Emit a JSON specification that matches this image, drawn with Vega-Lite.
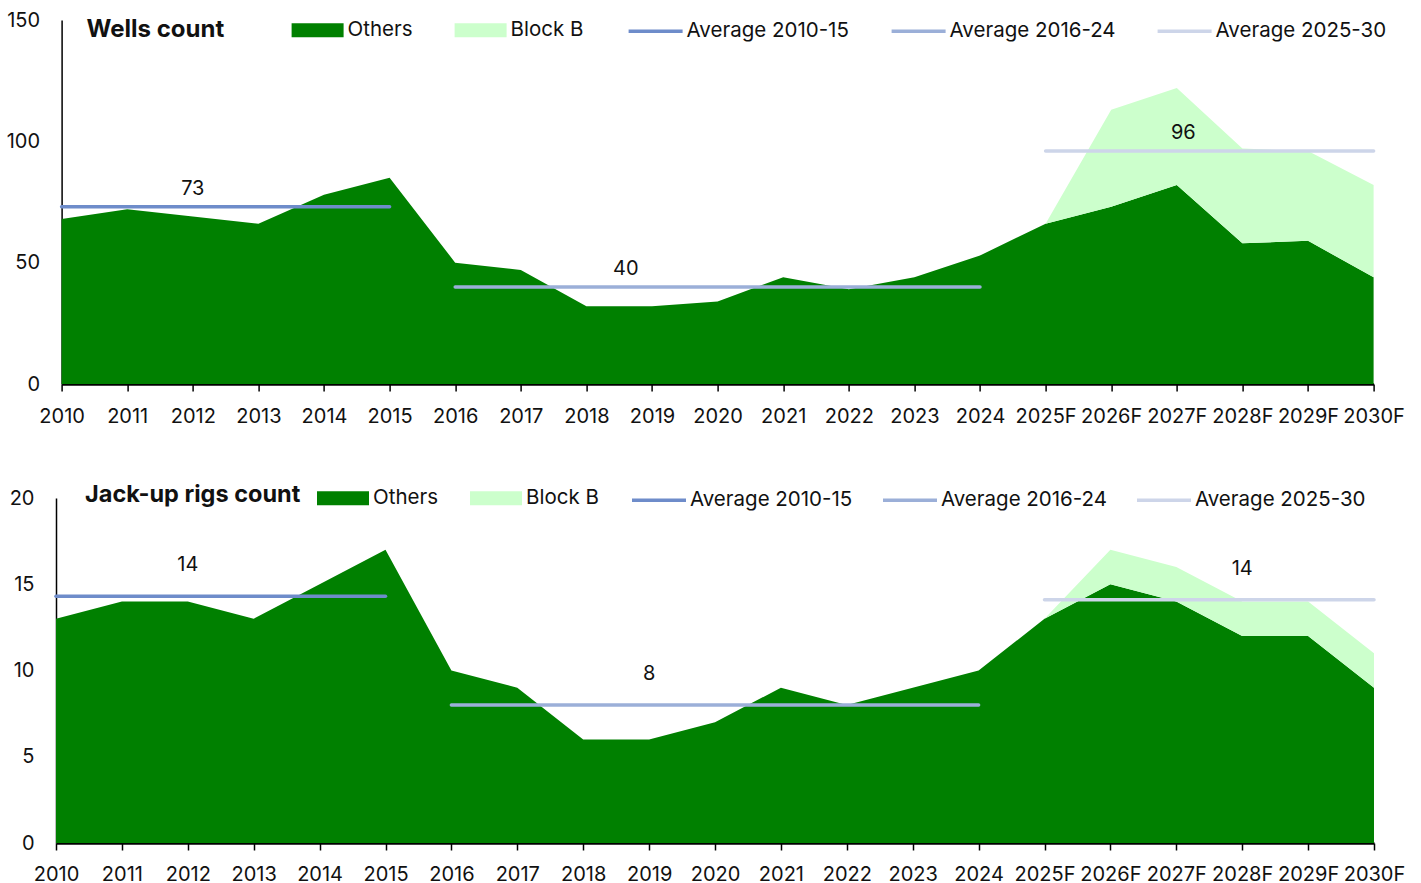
{
  "$schema": "https://vega.github.io/schema/vega-lite/v6.json",
  "background": "white",
  "padding": {"left": 6, "top": 2, "right": 0, "bottom": 0},
  "autosize": {"type": "pad"},
  "spacing": 45,
  "center": true,
  "config": {
    "view": {"stroke": null},
    "font": "Inter",
    "axis": {"grid": false, "labelFont": "Inter", "labelFontSize": 20, "labelColor": "#111111", "domainColor": "#000000", "tickColor": "#000000", "zindex": 1},
    "legend": {"labelFont": "Inter", "labelColor": "#111111", "labelLimit": 400},
    "title": {"font": "Inter"}
  },
  "resolve": {
    "scale": {"x": "independent", "y": "independent", "fill": "independent", "stroke": "independent"},
    "legend": {"fill": "independent", "stroke": "independent"}
  },
  "datasets": {
    "wells": [
      {"year": 2010, "series": "Others", "value": 68},
      {"year": 2011, "series": "Others", "value": 72},
      {"year": 2012, "series": "Others", "value": 69},
      {"year": 2013, "series": "Others", "value": 66},
      {"year": 2014, "series": "Others", "value": 78},
      {"year": 2015, "series": "Others", "value": 85},
      {"year": 2016, "series": "Others", "value": 50},
      {"year": 2017, "series": "Others", "value": 47},
      {"year": 2018, "series": "Others", "value": 32},
      {"year": 2019, "series": "Others", "value": 32},
      {"year": 2020, "series": "Others", "value": 34},
      {"year": 2021, "series": "Others", "value": 44},
      {"year": 2022, "series": "Others", "value": 39},
      {"year": 2023, "series": "Others", "value": 44},
      {"year": 2024, "series": "Others", "value": 53},
      {"year": 2025, "series": "Others", "value": 66},
      {"year": 2026, "series": "Others", "value": 73},
      {"year": 2027, "series": "Others", "value": 82},
      {"year": 2028, "series": "Others", "value": 58},
      {"year": 2029, "series": "Others", "value": 59},
      {"year": 2030, "series": "Others", "value": 44},
      {"year": 2010, "series": "Block B", "value": 0},
      {"year": 2011, "series": "Block B", "value": 0},
      {"year": 2012, "series": "Block B", "value": 0},
      {"year": 2013, "series": "Block B", "value": 0},
      {"year": 2014, "series": "Block B", "value": 0},
      {"year": 2015, "series": "Block B", "value": 0},
      {"year": 2016, "series": "Block B", "value": 0},
      {"year": 2017, "series": "Block B", "value": 0},
      {"year": 2018, "series": "Block B", "value": 0},
      {"year": 2019, "series": "Block B", "value": 0},
      {"year": 2020, "series": "Block B", "value": 0},
      {"year": 2021, "series": "Block B", "value": 0},
      {"year": 2022, "series": "Block B", "value": 0},
      {"year": 2023, "series": "Block B", "value": 0},
      {"year": 2024, "series": "Block B", "value": 0},
      {"year": 2025, "series": "Block B", "value": 0},
      {"year": 2026, "series": "Block B", "value": 40},
      {"year": 2027, "series": "Block B", "value": 40},
      {"year": 2028, "series": "Block B", "value": 39},
      {"year": 2029, "series": "Block B", "value": 37},
      {"year": 2030, "series": "Block B", "value": 38}
    ],
    "wellsAvg": [
      {"series": "Average 2010-15", "from": 2010, "to": 2015, "value": 73, "label": "73", "labelYear": 2012},
      {"series": "Average 2016-24", "from": 2016, "to": 2024, "value": 40, "label": "40", "labelYear": 2018.6},
      {"series": "Average 2025-30", "from": 2025, "to": 2030, "value": 96, "label": "96", "labelYear": 2027.1}
    ],
    "rigs": [
      {"year": 2010, "series": "Others", "value": 13},
      {"year": 2011, "series": "Others", "value": 14},
      {"year": 2012, "series": "Others", "value": 14},
      {"year": 2013, "series": "Others", "value": 13},
      {"year": 2014, "series": "Others", "value": 15},
      {"year": 2015, "series": "Others", "value": 17},
      {"year": 2016, "series": "Others", "value": 10},
      {"year": 2017, "series": "Others", "value": 9},
      {"year": 2018, "series": "Others", "value": 6},
      {"year": 2019, "series": "Others", "value": 6},
      {"year": 2020, "series": "Others", "value": 7},
      {"year": 2021, "series": "Others", "value": 9},
      {"year": 2022, "series": "Others", "value": 8},
      {"year": 2023, "series": "Others", "value": 9},
      {"year": 2024, "series": "Others", "value": 10},
      {"year": 2025, "series": "Others", "value": 13},
      {"year": 2026, "series": "Others", "value": 15},
      {"year": 2027, "series": "Others", "value": 14},
      {"year": 2028, "series": "Others", "value": 12},
      {"year": 2029, "series": "Others", "value": 12},
      {"year": 2030, "series": "Others", "value": 9},
      {"year": 2010, "series": "Block B", "value": 0},
      {"year": 2011, "series": "Block B", "value": 0},
      {"year": 2012, "series": "Block B", "value": 0},
      {"year": 2013, "series": "Block B", "value": 0},
      {"year": 2014, "series": "Block B", "value": 0},
      {"year": 2015, "series": "Block B", "value": 0},
      {"year": 2016, "series": "Block B", "value": 0},
      {"year": 2017, "series": "Block B", "value": 0},
      {"year": 2018, "series": "Block B", "value": 0},
      {"year": 2019, "series": "Block B", "value": 0},
      {"year": 2020, "series": "Block B", "value": 0},
      {"year": 2021, "series": "Block B", "value": 0},
      {"year": 2022, "series": "Block B", "value": 0},
      {"year": 2023, "series": "Block B", "value": 0},
      {"year": 2024, "series": "Block B", "value": 0},
      {"year": 2025, "series": "Block B", "value": 0},
      {"year": 2026, "series": "Block B", "value": 2},
      {"year": 2027, "series": "Block B", "value": 2},
      {"year": 2028, "series": "Block B", "value": 2},
      {"year": 2029, "series": "Block B", "value": 2},
      {"year": 2030, "series": "Block B", "value": 2}
    ],
    "rigsAvg": [
      {"series": "Average 2010-15", "from": 2010, "to": 2015, "value": 14.3, "label": "14", "labelYear": 2012},
      {"series": "Average 2016-24", "from": 2016, "to": 2024, "value": 8, "label": "8", "labelYear": 2019},
      {"series": "Average 2025-30", "from": 2025, "to": 2030, "value": 14.1, "label": "14", "labelYear": 2028}
    ]
  },
  "vconcat": [
    {
      "width": 1312,
      "height": 364,
      "title": {"text": "Wells count", "anchor": "start", "frame": "group", "dx": 25, "offset": -52, "baseline": "middle", "fontSize": 24, "fontWeight": "bold", "color": "#111111"},
      "layer": [
        {
          "data": {"name": "wells"},
          "mark": {"type": "area", "interpolate": "linear"},
          "encoding": {
            "x": {"field": "year", "type": "quantitative", "scale": {"domain": [2010, 2030], "nice": false, "zero": false},
              "axis": {"title": null, "values": [2010,2011,2012,2013,2014,2015,2016,2017,2018,2019,2020,2021,2022,2023,2024,2025,2026,2027,2028,2029,2030], "labelExpr": "datum.value >= 2025 ? datum.value + 'F' : '' + datum.value", "tickSize": 7, "tickWidth": 1.5, "domainWidth": 2.5, "labelPadding": 15, "labelFlush": false, "labelOverlap": false}},
            "y": {"field": "value", "type": "quantitative", "stack": "zero", "scale": {"domain": [0, 150], "nice": false},
              "axis": {"title": null, "values": [0, 50, 100, 150], "ticks": false, "labelPadding": 22, "domainWidth": 1.5}},
            "fill": {"field": "series", "type": "nominal", "scale": {"domain": ["Others", "Block B"], "range": ["#008000", "#CCFFCC"]},
              "legend": {"orient": "none", "legendX": 230, "legendY": -16, "direction": "horizontal", "title": null, "symbolType": "M-1,-0.27H1V0.27H-1Z", "symbolSize": 2704, "symbolStrokeWidth": 0, "symbolOpacity": 1, "labelFontSize": 20.5, "labelOffset": 4, "columnPadding": 42, "padding": 0}},
            "order": {"field": "series", "sort": "descending"}
          }
        },
        {
          "data": {"name": "wellsAvg"},
          "mark": {"type": "rule", "strokeWidth": 3.5, "strokeCap": "round"},
          "encoding": {
            "x": {"field": "from", "type": "quantitative"},
            "x2": {"field": "to"},
            "y": {"field": "value", "type": "quantitative"},
            "stroke": {"field": "series", "type": "nominal", "scale": {"domain": ["Average 2010-15", "Average 2016-24", "Average 2025-30"], "range": ["#6E8CCA", "#9BAFD8", "#CDD5E9"]},
              "legend": {"orient": "none", "legendX": 565, "legendY": -18, "direction": "horizontal", "title": null, "symbolType": "stroke", "symbolSize": 2916, "symbolStrokeWidth": 3.5, "labelFontSize": 20.5, "labelOffset": 2, "columnPadding": 35, "padding": 0}}
          }
        },
        {
          "data": {"name": "wellsAvg"},
          "mark": {"type": "text", "dy": -18, "fontSize": 20, "color": "#111111", "baseline": "middle"},
          "encoding": {
            "x": {"field": "labelYear", "type": "quantitative"},
            "y": {"field": "value", "type": "quantitative"},
            "text": {"field": "label"}
          }
        }
      ]
    },
    {
      "width": 1318,
      "height": 345,
      "title": {"text": "Jack-up rigs count", "anchor": "start", "frame": "group", "dx": 29, "offset": -47, "baseline": "middle", "fontSize": 23.5, "fontWeight": "bold", "color": "#111111"},
      "layer": [
        {
          "data": {"name": "rigs"},
          "mark": {"type": "area", "interpolate": "linear"},
          "encoding": {
            "x": {"field": "year", "type": "quantitative", "scale": {"domain": [2010, 2030], "nice": false, "zero": false},
              "axis": {"title": null, "values": [2010,2011,2012,2013,2014,2015,2016,2017,2018,2019,2020,2021,2022,2023,2024,2025,2026,2027,2028,2029,2030], "labelExpr": "datum.value >= 2025 ? datum.value + 'F' : '' + datum.value", "tickSize": 7, "tickWidth": 1.5, "domainWidth": 2.5, "labelPadding": 14, "labelFlush": false, "labelOverlap": false}},
            "y": {"field": "value", "type": "quantitative", "stack": "zero", "scale": {"domain": [0, 20], "nice": false},
              "axis": {"title": null, "values": [0, 5, 10, 15, 20], "ticks": false, "labelPadding": 22, "domainWidth": 1.5}},
            "fill": {"field": "series", "type": "nominal", "scale": {"domain": ["Others", "Block B"], "range": ["#008000", "#CCFFCC"]},
              "legend": {"orient": "none", "legendX": 261, "legendY": -26, "direction": "horizontal", "title": null, "symbolType": "M-1,-0.27H1V0.27H-1Z", "symbolSize": 2704, "symbolStrokeWidth": 0, "symbolOpacity": 1, "labelFontSize": 20.5, "labelOffset": 4, "columnPadding": 32, "padding": 0}},
            "order": {"field": "series", "sort": "descending"}
          }
        },
        {
          "data": {"name": "rigsAvg"},
          "mark": {"type": "rule", "strokeWidth": 3.5, "strokeCap": "round"},
          "encoding": {
            "x": {"field": "from", "type": "quantitative"},
            "x2": {"field": "to"},
            "y": {"field": "value", "type": "quantitative"},
            "stroke": {"field": "series", "type": "nominal", "scale": {"domain": ["Average 2010-15", "Average 2016-24", "Average 2025-30"], "range": ["#6E8CCA", "#9BAFD8", "#CDD5E9"]},
              "legend": {"orient": "none", "legendX": 574, "legendY": -27, "direction": "horizontal", "title": " ", "titleOrient": "right", "titleFontSize": 2, "titlePadding": 44, "symbolType": "stroke", "symbolSize": 2916, "symbolStrokeWidth": 3.5, "labelFontSize": 20.5, "labelOffset": 2, "columnPadding": 23, "padding": 0}}
          }
        },
        {
          "data": {"name": "rigsAvg"},
          "mark": {"type": "text", "dy": -31, "fontSize": 20, "color": "#111111", "baseline": "middle"},
          "encoding": {
            "x": {"field": "labelYear", "type": "quantitative"},
            "y": {"field": "value", "type": "quantitative"},
            "text": {"field": "label"}
          }
        }
      ]
    }
  ]
}
